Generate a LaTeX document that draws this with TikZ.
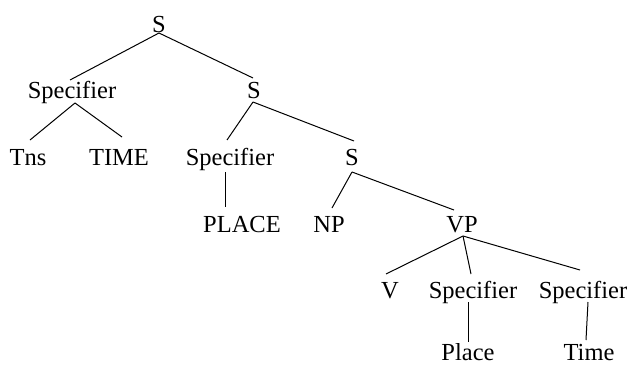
\documentclass[tikz,border=0pt]{standalone}
\usepackage{fontspec}
\setmainfont{Liberation Serif}
\usetikzlibrary{calc}
\begin{document}
\begin{tikzpicture}[x=1pt,y=-1pt,
  lbl/.style={anchor=base, inner sep=0pt, font=\fontsize{24.5}{29}\selectfont},
  br/.style={line width=1pt}]
\useasboundingbox (0,0) rectangle (634,364);
% nodes (positioned at their baselines)
\node[lbl] (s1) at (159,32) {S};
\node[lbl] (sp1) at (72,98) {Specifier};
\node[lbl] (s2) at (254,98) {S};
\node[lbl] (tns) at (28,165) {Tns};
\node[lbl] (time) at (119,165) {TIME};
\node[lbl] (sp2) at (230,165) {Specifier};
\node[lbl] (s3) at (352,165) {S};
\node[lbl] (place1) at (242,232) {PLACE};
\node[lbl] (np) at (329,232) {NP};
\node[lbl] (vp) at (462,232) {VP};
\node[lbl] (v) at (390,298) {V};
\node[lbl] (sp3) at (473,298) {Specifier};
\node[lbl] (sp4) at (583,298) {Specifier};
\node[lbl] (place2) at (468,360) {Place};
\node[lbl] (time2) at (589,360) {Time};
% branches
\draw[br] ($(s1.base)+(0,1)$) -- ($(sp1.base)+(-2,-18)$);
\draw[br] ($(s1.base)+(0,1)$) -- ($(s2.base)+(-1,-20)$);
\draw[br] ($(sp1.base)+(3,5)$) -- ($(tns.base)+(2,-25)$);
\draw[br] ($(sp1.base)+(3,5)$) -- ($(time.base)+(3,-28)$);
\draw[br] ($(s2.base)+(-1,4)$) -- ($(sp2.base)+(-3,-25)$);
\draw[br] ($(s2.base)+(-1,4)$) -- ($(s3.base)+(2,-24)$);
\draw[br] ($(sp2.base)+(-5,7)$) -- ($(place1.base)+(-17,-25)$);
\draw[br] ($(s3.base)+(0,7)$) -- ($(np.base)+(3,-24)$);
\draw[br] ($(s3.base)+(0,7)$) -- ($(vp.base)+(-8,-22)$);
\draw[br] ($(vp.base)+(1,4)$) -- ($(v.base)+(-4,-24)$);
\draw[br] ($(vp.base)+(1,4)$) -- ($(sp3.base)+(-2,-24)$);
\draw[br] ($(vp.base)+(1,4)$) -- ($(sp4.base)+(-3,-28)$);
\draw[br] ($(sp3.base)+(-5,4)$) -- ($(place2.base)+(0,-18)$);
\draw[br] ($(sp4.base)+(5,4)$) -- ($(time2.base)+(-3,-20)$);
\end{tikzpicture}
\end{document}
